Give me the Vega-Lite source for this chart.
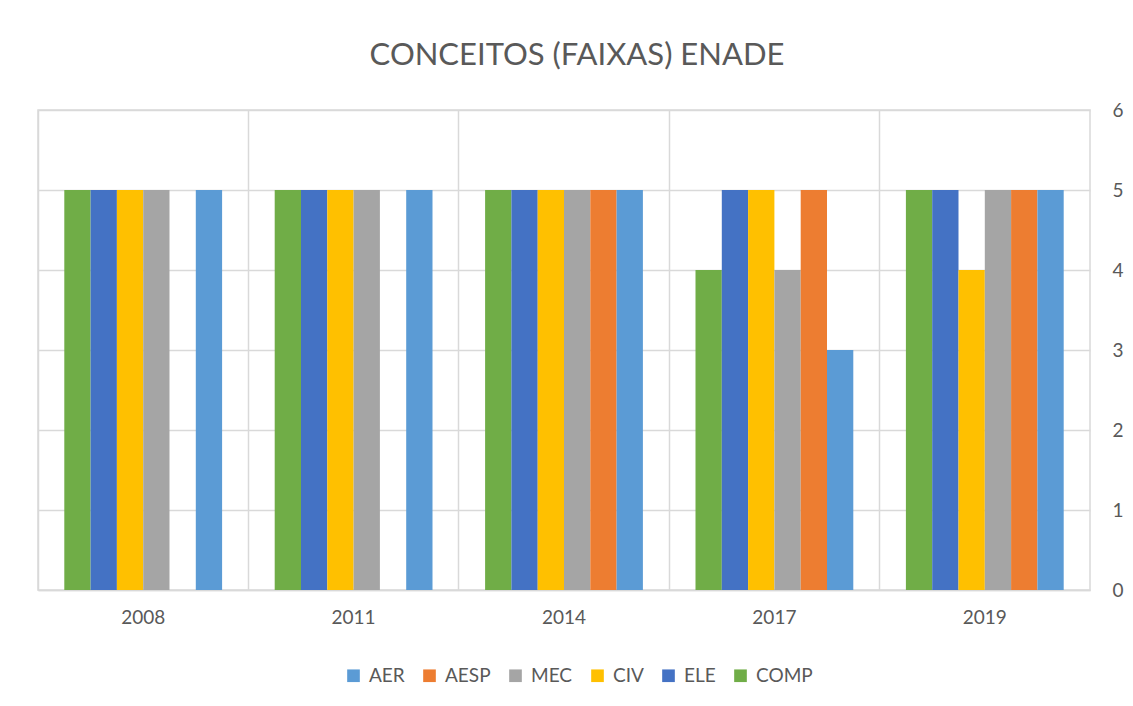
{
  "$schema": "https://vega.github.io/schema/vega-lite/v6.json",
  "autosize": {"type": "none"},
  "padding": {"left": 38, "top": 110, "right": 43, "bottom": 116},
  "width": 1052,
  "height": 480,
  "background": "white",
  "title": {
    "text": "CONCEITOS (FAIXAS) ENADE",
    "fontSize": 31,
    "font": "Lato",
    "fontWeight": "normal",
    "color": "#595959",
    "anchor": "middle",
    "dx": 13,
    "offset": 29
  },
  "data": {
    "values": [
      {"year": "2008", "course": "COMP", "value": 5},
      {"year": "2008", "course": "ELE", "value": 5},
      {"year": "2008", "course": "CIV", "value": 5},
      {"year": "2008", "course": "MEC", "value": 5},
      {"year": "2008", "course": "AER", "value": 5},
      {"year": "2011", "course": "COMP", "value": 5},
      {"year": "2011", "course": "ELE", "value": 5},
      {"year": "2011", "course": "CIV", "value": 5},
      {"year": "2011", "course": "MEC", "value": 5},
      {"year": "2011", "course": "AER", "value": 5},
      {"year": "2014", "course": "COMP", "value": 5},
      {"year": "2014", "course": "ELE", "value": 5},
      {"year": "2014", "course": "CIV", "value": 5},
      {"year": "2014", "course": "MEC", "value": 5},
      {"year": "2014", "course": "AESP", "value": 5},
      {"year": "2014", "course": "AER", "value": 5},
      {"year": "2017", "course": "COMP", "value": 4},
      {"year": "2017", "course": "ELE", "value": 5},
      {"year": "2017", "course": "CIV", "value": 5},
      {"year": "2017", "course": "MEC", "value": 4},
      {"year": "2017", "course": "AESP", "value": 5},
      {"year": "2017", "course": "AER", "value": 3},
      {"year": "2019", "course": "COMP", "value": 5},
      {"year": "2019", "course": "ELE", "value": 5},
      {"year": "2019", "course": "CIV", "value": 4},
      {"year": "2019", "course": "MEC", "value": 5},
      {"year": "2019", "course": "AESP", "value": 5},
      {"year": "2019", "course": "AER", "value": 5}
    ]
  },
  "mark": {"type": "bar"},
  "encoding": {
    "x": {
      "field": "year",
      "type": "nominal",
      "scale": {"paddingInner": 0, "paddingOuter": 0},
      "axis": {
        "title": null,
        "labelAngle": 0,
        "grid": true,
        "bandPosition": 0,
        "gridColor": "#D9D9D9",
        "gridWidth": 1.5,
        "ticks": false,
        "domain": true,
        "domainColor": "#D9D9D9",
        "domainWidth": 1.5,
        "labelFontSize": 19,
        "labelColor": "#595959",
        "labelPadding": 18
      }
    },
    "xOffset": {
      "field": "course",
      "type": "nominal",
      "sort": ["COMP", "ELE", "CIV", "MEC", "AESP", "AER"],
      "scale": {"domain": ["COMP", "ELE", "CIV", "MEC", "AESP", "AER"], "paddingInner": 0, "paddingOuter": 1.046}
    },
    "y": {
      "field": "value",
      "type": "quantitative",
      "scale": {"domain": [0, 6], "nice": false},
      "axis": {
        "orient": "right",
        "title": null,
        "values": [0, 1, 2, 3, 4, 5, 6],
        "grid": true,
        "gridColor": "#D9D9D9",
        "gridWidth": 1.5,
        "ticks": false,
        "domain": false,
        "labelFontSize": 19,
        "labelColor": "#595959",
        "labelPadding": 22
      }
    },
    "color": {
      "field": "course",
      "type": "nominal",
      "scale": {
        "domain": ["AER", "AESP", "MEC", "CIV", "ELE", "COMP"],
        "range": ["#5B9BD5", "#ED7D31", "#A5A5A5", "#FFC000", "#4472C4", "#70AD47"]
      },
      "legend": {
        "title": null,
        "orient": "none",
        "direction": "horizontal",
        "legendX": 306,
        "legendY": 556,
        "symbolType": "square",
        "symbolSize": 160,
        "symbolStrokeWidth": 0,
        "labelFontSize": 19,
        "labelColor": "#595959",
        "labelOffset": 6,
        "columnPadding": 15
      }
    }
  },
  "config": {
    "font": "Lato",
    "view": {"stroke": "#D9D9D9", "strokeWidth": 1.5}
  }
}
